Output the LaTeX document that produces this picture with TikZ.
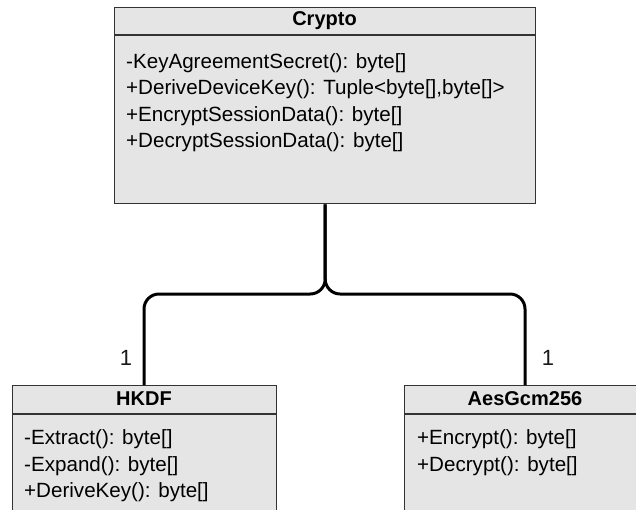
\documentclass[tikz,border=0pt]{standalone}
\usepackage{fontspec}
\setmainfont{Liberation Sans}
\begin{document}
\begin{tikzpicture}[x=1pt,y=-1pt,
  classbox/.style={draw=black!80, line width=1.4pt, fill=black!10, inner sep=0pt, anchor=north west},
  classtitle/.style={font=\fontsize{20}{24}\selectfont\bfseries, inner sep=0pt, anchor=center},
  member/.style={font=\fontsize{20.6}{24}\selectfont, inner sep=0pt, anchor=west},
  conn/.style={draw=black, line width=3pt, rounded corners=15pt},
  mult/.style={font=\fontsize{22}{26}\selectfont, text=black!90, inner sep=0pt}]
\clip (0,0) rectangle (636,509);
\fill[white] (0,0) rectangle (636,509);

% Crypto class
\node[classbox, minimum width=421pt, minimum height=196pt] (crypto) at (114,7) {};
\draw[draw=black!80, line width=1.4pt] (crypto.north west) ++(0,28) coordinate (cryptosep) -- (cryptosep -| crypto.east);
\node[classtitle] (cryptoname) at (324.5,21) {Crypto};
\node[member] (c1) at (126,63) {-KeyAgreementSecret(): byte[]};
\node[member] (c2) at (126,89.5) {+DeriveDeviceKey(): Tuple<byte[],byte[]>};
\node[member] (c3) at (126,116) {+EncryptSessionData(): byte[]};
\node[member] (c4) at (126,142.5) {+DecryptSessionData(): byte[]};

% HKDF class
\node[classbox, minimum width=264pt, minimum height=160pt] (hkdf) at (12,385) {};
\draw[draw=black!80, line width=1.4pt] (hkdf.north west) ++(0,29) coordinate (hkdfsep) -- (hkdfsep -| hkdf.east);
\node[classtitle] (hkdfname) at (144,399) {HKDF};
\node[member] (h1) at (24,439.5) {-Extract(): byte[]};
\node[member] (h2) at (24,466) {-Expand(): byte[]};
\node[member] (h3) at (24,492.5) {+DeriveKey(): byte[]};

% AesGcm256 class
\node[classbox, minimum width=242pt, minimum height=160pt] (aes) at (404,385) {};
\draw[draw=black!80, line width=1.4pt] (aes.north west) ++(0,29) coordinate (aessep) -- (aessep -| aes.east);
\node[classtitle] (aesname) at (525,399) {AesGcm256};
\node[member] (a1) at (417,439.5) {+Encrypt(): byte[]};
\node[member] (a2) at (417,466) {+Decrypt(): byte[]};

% composition connectors
\coordinate (hkdfend) at (144,385);
\coordinate (aesend) at (525,385);
\draw[conn] (crypto.south) |- ([yshift=91pt]hkdfend) -- (hkdfend);
\draw[conn] (crypto.south) |- ([yshift=91pt]aesend) -- (aesend);

% multiplicities
\node[mult] (m1) at (126,358) {1};
\node[mult] (m2) at (548,358) {1};
\end{tikzpicture}
\end{document}
